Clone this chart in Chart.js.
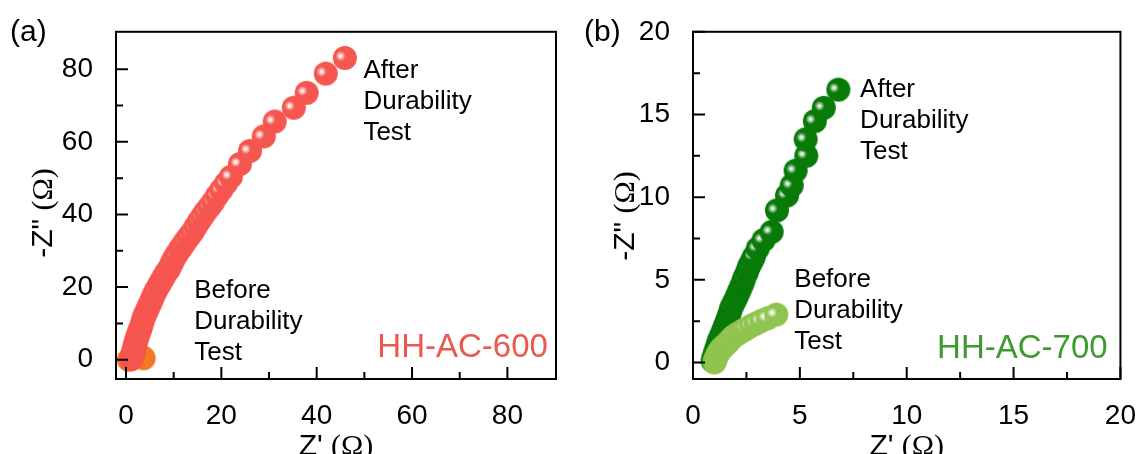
<!DOCTYPE html>
<html>
<head>
<meta charset="utf-8">
<script src="https://cdn.jsdelivr.net/npm/chart.js@4.4.1/dist/chart.umd.min.js"></script>
<style>
  html, body { margin: 0; padding: 0; background: #fff; }
  #wrap { position: relative; width: 1148px; height: 454px; overflow: hidden; }
  .panel { position: absolute; top: 0; width: 574px; height: 454px; }
  #panelA { left: 0; }
  #panelB { left: 574px; }
</style>
</head>
<body>
<div id="wrap">
  <div class="panel" id="panelA"><canvas id="chartA" width="574" height="454"></canvas></div>
  <div class="panel" id="panelB"><canvas id="chartB" width="574" height="454"></canvas></div>
</div>
<script>
// HH-AC-600, Nyquist plot: Z' (ohm) vs -Z'' (ohm)
const a600BeforeX = [0.6, 1.0, 1.5, 2.1, 2.7, 3.3, 3.7];
const a600BeforeY = [0.0, 0.3, 0.6, 0.8, 0.9, 0.8, 0.4];
const a600AfterX = [1.1, 1.2, 1.3, 1.4, 1.5, 1.6, 1.7, 1.8, 1.9, 2.05,
                    2.2, 2.35, 2.5, 2.7, 2.9, 3.1, 3.35, 3.6, 3.9, 4.3,
                    4.7, 5.1, 5.45, 5.8, 6.3, 6.9, 7.4, 7.9, 8.4, 9.0,
                    9.5, 10.0, 10.6, 11.3, 11.9, 12.5, 13.2, 13.9, 14.6, 15.3,
                    16.0, 16.7, 17.5, 18.3, 19.1, 20.0, 21.0, 22.0, 23.9, 26.0,
                    28.9, 31.2, 35.2, 37.9, 41.9, 45.9];
const a600AfterY = [0.2, 0.6, 1.0, 1.5, 2.0, 2.5, 3.0, 3.6, 4.3, 4.9,
                    5.5, 6.1, 6.8, 7.5, 8.2, 8.9, 9.9, 11.1, 12.2, 13.3,
                    14.5, 15.6, 16.7, 17.8, 19.1, 20.5, 21.6, 22.8, 23.9, 25.0,
                    26.3, 27.7, 29.0, 30.4, 31.5, 32.7, 33.9, 35.1, 36.6, 38.1,
                    39.4, 40.8, 42.1, 43.5, 45.2, 46.8, 48.6, 50.4, 53.9, 57.5,
                    61.5, 65.6, 69.4, 73.5, 78.8, 83.1];

// HH-AC-700
const b700BeforeX = [1.0, 1.03, 1.07, 1.12, 1.18, 1.25, 1.33, 1.42, 1.52, 1.63,
                     1.75, 1.88, 2.02, 2.17, 2.33, 2.5, 2.72, 2.95, 3.2, 3.5, 3.9];
const b700BeforeY = [0.0, 0.12, 0.25, 0.4, 0.55, 0.7, 0.83, 0.95, 1.07, 1.2,
                     1.38, 1.55, 1.68, 1.8, 1.92, 2.05, 2.22, 2.36, 2.52, 2.68, 2.9];
const b700AfterX = [0.92, 0.97, 1.04, 1.12, 1.19, 1.27, 1.37, 1.46, 1.55, 1.64,
                    1.72, 1.79, 1.9, 2.02, 2.12, 2.22, 2.32, 2.4, 2.52, 2.62,
                    2.74, 2.85, 3.03, 3.3, 3.68, 3.93, 4.4, 4.62, 4.8, 5.3,
                    5.27, 5.7, 6.12, 6.8];
const b700AfterY = [0.1, 0.35, 0.65, 0.95, 1.25, 1.5, 1.8, 2.1, 2.4, 2.7,
                    3.0, 3.3, 3.6, 3.9, 4.2, 4.5, 4.8, 5.1, 5.45, 5.8,
                    6.1, 6.4, 6.9, 7.4, 7.9, 9.2, 10.1, 10.7, 11.6, 12.5,
                    13.5, 14.6, 15.4, 16.5];

// axis ticks
const ticksA = [0, 20, 40, 60, 80];
const minorTicksA = [10, 30, 50, 70];
const ticksB = [0, 5, 10, 15, 20];
const minorTicksB = [2.5, 7.5, 12.5, 17.5];

const SANS = "'Liberation Sans', Arial, sans-serif";
const SERIF = "'Liberation Serif', 'Times New Roman', serif";

// shaded ball marker used as an image pointStyle
function sphere(color, r) {
    const size = Math.ceil(r * 2 + 2);
    const c = document.createElement('canvas');
    c.width = c.height = size;
    const g = c.getContext('2d');
    const cx = size / 2, cy = size / 2;
    g.beginPath();
    g.arc(cx, cy, r, 0, Math.PI * 2);
    g.fillStyle = color;
    g.fill();
    // highlight sits left of centre, a little high
    const hx = cx - r * 0.36, hy = cy - r * 0.16;
    const hl = g.createRadialGradient(hx, hy, 0, hx, hy, r * 0.42);
    hl.addColorStop(0, 'rgba(255,255,255,1)');
    hl.addColorStop(0.25, 'rgba(255,255,255,0.85)');
    hl.addColorStop(1, 'rgba(255,255,255,0)');
    g.fillStyle = hl;
    g.beginPath();
    g.arc(cx, cy, r, 0, Math.PI * 2);
    g.fill();
    return c;
}

function series(xs, ys, color, order) {
    return {
        data: xs.map((v, i) => ({ x: v, y: ys[i] })),
        pointStyle: sphere(color, 12),
        pointRadius: 12,
        showLine: false,
        clip: false,
        order: order
    };
}

// draws text made of runs that use different font families
function drawRuns(ctx, runs, x, y, size, align) {
    const widths = runs.map(r => { ctx.font = size + 'px ' + r.family; return ctx.measureText(r.text).width; });
    const total = widths.reduce((a, b) => a + b, 0);
    let cx = align === 'center' ? x - total / 2 : x;
    runs.forEach((r, i) => {
        ctx.font = size + 'px ' + r.family;
        ctx.fillText(r.text, cx, y);
        cx += widths[i];
    });
}

const decor = {
    id: 'decor',
    afterDraw(chart, args, o) {
        const { ctx, chartArea: ca } = chart;
        const xs = chart.scales.x, ys = chart.scales.y;
        ctx.save();
        ctx.strokeStyle = '#000';
        ctx.lineWidth = 2;
        ctx.strokeRect(ca.left, ca.top, ca.right - ca.left, ca.bottom - ca.top);

        // inward ticks on the bottom and left edges
        ctx.beginPath();
        const tick = (vals, len) => {
            vals.forEach(v => {
                const px = xs.getPixelForValue(v);
                ctx.moveTo(px, ca.bottom);
                ctx.lineTo(px, ca.bottom - len);
            });
        };
        const ytick = (vals, len) => {
            vals.forEach(v => {
                const py = ys.getPixelForValue(v);
                ctx.moveTo(ca.left, py);
                ctx.lineTo(ca.left + len, py);
            });
        };
        tick(o.xMajor, 12); tick(o.xMinor, 7);
        ytick(o.yMajor, 12); ytick(o.yMinor, 7);
        ctx.stroke();

        // text notes anchored in data space
        ctx.textBaseline = 'alphabetic';
        o.notes.forEach(n => {
            ctx.fillStyle = n.color;
            ctx.font = n.size + 'px ' + SANS;
            ctx.textAlign = n.align || 'left';
            const px = xs.getPixelForValue(n.x);
            const py = ys.getPixelForValue(n.y);
            n.lines.forEach((t, i) => ctx.fillText(t, px, py + i * 31));
        });

        // axis titles: Z in sans, (Ω) in serif
        ctx.fillStyle = '#000';
        ctx.textAlign = 'left';
        drawRuns(ctx, [{ text: "Z' ", family: SANS }, { text: '(\u03A9)', family: SERIF }],
            (ca.left + ca.right) / 2, 455, 30, 'center');
        ctx.save();
        ctx.translate(o.yTitleX, o.yTitleY);
        ctx.rotate(-Math.PI / 2);
        drawRuns(ctx, [{ text: '-Z" ', family: SANS }, { text: '(\u03A9)', family: SERIF }],
            0, 0, 30, 'center');
        ctx.restore();

        // panel letter
        ctx.font = '30px ' + SANS;
        ctx.fillText(o.letter, 10, 41);
        ctx.restore();
    }
};

function panel(id, cfg) {
    const tickFont = { family: SANS, size: 28 };
    return new Chart(document.getElementById(id), {
        type: 'scatter',
        data: { datasets: cfg.datasets },
        plugins: [decor],
        options: {
            responsive: false,
            animation: false,
            events: [],
            layout: { padding: { top: 25, right: cfg.padRight, bottom: 0, left: 0 } },
            plugins: {
                legend: { display: false },
                tooltip: { enabled: false },
                decor: cfg.decor
            },
            scales: {
                x: {
                    type: 'linear',
                    min: cfg.xMin, max: cfg.xMax,
                    afterBuildTicks: s => { s.ticks = cfg.xTicks.map(v => ({ value: v })); },
                    afterFit: s => { s.height = 75; },
                    grid: { display: false },
                    border: { display: false },
                    ticks: { font: tickFont, color: '#000', padding: 12, maxRotation: 0, autoSkip: false }
                },
                y: {
                    type: 'linear',
                    min: cfg.yMin, max: cfg.yMax,
                    afterBuildTicks: s => { s.ticks = cfg.yTicks.map(v => ({ value: v })); },
                    afterFit: s => { s.width = cfg.yWidth; },
                    grid: { display: false },
                    border: { display: false },
                    ticks: { font: tickFont, color: '#000', padding: 15, autoSkip: false }
                }
            }
        }
    });
}

panel('chartA', {
    datasets: [
        series(a600AfterX, a600AfterY, '#f65650', 0),
        series(a600BeforeX, a600BeforeY, '#f07a22', 1)
    ],
    xMin: -2.1, xMax: 90.2, yMin: -5.3, yMax: 90.3,
    xTicks: ticksA, yTicks: ticksA,
    yWidth: 116, padRight: 18,
    decor: {
        xMajor: ticksA, xMinor: minorTicksA, yMajor: ticksA, yMinor: minorTicksA,
        yTitleX: 52, yTitleY: 213, letter: '(a)',
        notes: [
            { lines: ['After', 'Durability', 'Test'], x: 49.8, y: 77.7, size: 26, color: '#000' },
            { lines: ['Before', 'Durability', 'Test'], x: 14.3, y: 16.9, size: 26, color: '#000' },
            { lines: ['HH-AC-600'], x: 88.5, y: 0.8, size: 33, color: '#eb584d', align: 'right' }
        ]
    }
});

panel('chartB', {
    datasets: [
        series(b700BeforeX, b700BeforeY, '#90c450', 0),
        series(b700AfterX, b700AfterY, '#087a08', 1)
    ],
    xMin: 0, xMax: 20, yMin: -1, yMax: 20,
    xTicks: ticksB, yTicks: ticksB,
    yWidth: 119, padRight: 15,
    decor: {
        xMajor: ticksB, xMinor: minorTicksB, yMajor: ticksB, yMinor: minorTicksB,
        yTitleX: 60, yTitleY: 216, letter: '(b)',
        notes: [
            { lines: ['After', 'Durability', 'Test'], x: 7.82, y: 16.04, size: 26, color: '#000' },
            { lines: ['Before', 'Durability', 'Test'], x: 4.74, y: 4.57, size: 26, color: '#000' },
            { lines: ['HH-AC-700'], x: 19.4, y: 0.24, size: 33, color: '#3d9a2e', align: 'right' }
        ]
    }
});
</script>
</body>
</html>
